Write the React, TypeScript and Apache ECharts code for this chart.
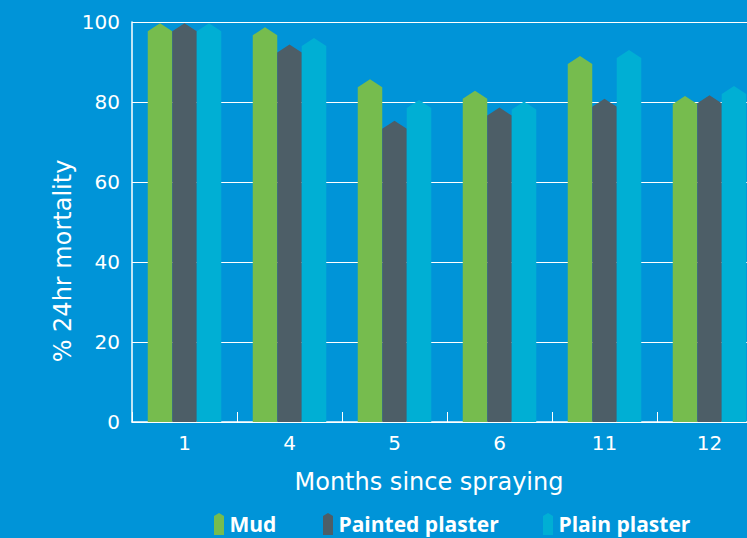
import React, { useEffect, useRef } from "react";
import * as echarts from "echarts";

const categories = ["1", "4", "5", "6", "11", "12"];
const mud = [99.7, 98.7, 85.7, 82.8, 91.5, 81.5];
const paintedPlaster = [99.7, 94.4, 75.3, 78.6, 80.8, 81.7];
const plainPlaster = [99.7, 96.0, 80.5, 80.1, 93.0, 84.0];
const yTicks = [0, 20, 40, 60, 80, 100];

const seriesDefs = [
  { name: "Mud", values: mud, color: "#76bc4e", offset: -24.5, legendLeft: 209 },
  { name: "Painted plaster", values: paintedPlaster, color: "#4d5e67", offset: 0, legendLeft: 318 },
  { name: "Plain plaster", values: plainPlaster, color: "#00afd4", offset: 24.5, legendLeft: 538 },
];

const BAR_W = 24.5;
const PEAK = 8;
const FONT = "'DejaVu Sans', 'Open Sans', sans-serif";
const BOLD_FONT = "'Open Sans', Lato, sans-serif";

export default function App() {
  const ref = useRef<HTMLDivElement>(null);
  useEffect(() => {
    if (!ref.current) return;
    const chart = echarts.init(ref.current, undefined, { renderer: "svg" });
    const series = seriesDefs.map((s) => ({
      type: "custom" as const,
      name: s.name,
      itemStyle: { color: s.color },
      encode: { x: 0, y: 1 },
      data: s.values.map((v, i) => [i, v]),
      renderItem: (params: any, api: any) => {
        const idx = api.value(0);
        const val = api.value(1);
        const top = api.coord([idx, val]);
        const base = api.coord([idx, 0]);
        const xc = top[0] + s.offset;
        const l = xc - BAR_W / 2;
        const r = xc + BAR_W / 2;
        return {
          type: "polygon",
          shape: {
            points: [
              [l, base[1]],
              [l, top[1] + PEAK],
              [xc, top[1]],
              [r, top[1] + PEAK],
              [r, base[1]],
            ],
          },
          style: { fill: s.color },
        };
      },
    }));
    chart.setOption({
      animation: false,
      backgroundColor: "#0094d8",
      textStyle: { fontFamily: FONT },
      grid: { left: 132, top: 22, width: 630, bottom: 116, containLabel: false, outerBoundsMode: "none" },
      legend: seriesDefs.map((s) => ({
        left: s.legendLeft,
        top: 508,
        itemWidth: 11,
        itemHeight: 22,
        itemGap: 6,
        textStyle: { color: "#ffffff", fontSize: 21, fontWeight: "bold", fontFamily: BOLD_FONT, lineHeight: 22 },
        data: [
          {
            name: s.name,
            icon: "path://M0,3 L5,0 L10,3 L10,22 L0,22 Z",
            itemStyle: { color: s.color },
          },
        ],
      })),
      graphic: [
        {
          type: "text",
          x: 63,
          y: 261,
          rotation: Math.PI / 2,
          style: {
            text: "% 24hr mortality",
            fill: "#ffffff",
            fontSize: 24,
            fontFamily: FONT,
            textAlign: "center",
            textVerticalAlign: "middle",
          },
        },
        {
          type: "text",
          x: 429,
          y: 482,
          style: {
            text: "Months since spraying",
            fill: "#ffffff",
            fontSize: 24,
            fontFamily: FONT,
            textAlign: "center",
            textVerticalAlign: "middle",
          },
        },
      ],
      xAxis: {
        type: "category",
        data: categories,
        boundaryGap: true,
        axisLine: { show: true, lineStyle: { color: "#ffffff", width: 1.5 } },
        axisTick: { show: true, inside: true, length: 10, lineStyle: { color: "#ffffff", width: 1 } },
        axisLabel: { color: "#ffffff", fontSize: 20, margin: 11, fontFamily: FONT },
        splitLine: { show: false },
      },
      yAxis: {
        type: "value",
        min: yTicks[0],
        max: yTicks[yTicks.length - 1],
        interval: 20,
        axisLine: { show: true, lineStyle: { color: "#ffffff", width: 1.5 } },
        axisTick: { show: false },
        axisLabel: { color: "#ffffff", fontSize: 20, margin: 12, fontFamily: FONT },
        splitLine: { show: true, lineStyle: { color: "#ffffff", width: 1 } },
      },
      series,
    });
    return () => chart.dispose();
  }, []);
  return (
    <div
      ref={ref}
      style={{ position: "fixed", left: 0, top: 0, width: 747, height: 538 }}
    />
  );
}
